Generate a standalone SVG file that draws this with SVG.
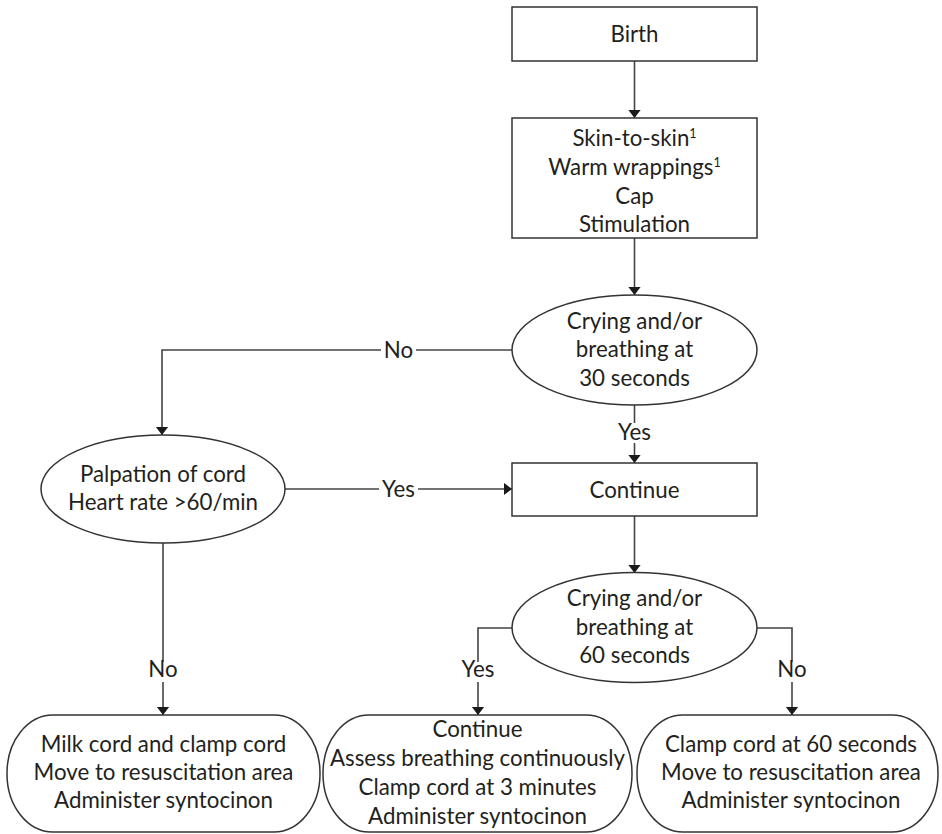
<svg xmlns="http://www.w3.org/2000/svg" width="942" height="834" viewBox="0 0 942 834">
  <style>
    .shape { fill: #ffffff; stroke: #333333; stroke-width: 1.5; }
    .wire { fill: none; stroke: #444444; stroke-width: 1.6; }
    text { font-family: Lato, "Liberation Sans", sans-serif; font-size: 22.3px; fill: #231f20; text-anchor: middle; }
    .sup { font-size: 12.5px; }
  </style>
  <defs>
    <marker id="arrow" markerUnits="userSpaceOnUse" markerWidth="9" markerHeight="14" refX="8.5" refY="6.5" orient="auto">
      <path d="M0,0 L8.5,6.5 L0,13 z" fill="#1a1a1a"/>
    </marker>
  </defs>

  <rect width="942" height="834" fill="#ffffff"/>

  <!-- connectors -->
  <g id="connectors">
    <path class="wire" d="M634.5,61 V118" marker-end="url(#arrow)"/>
    <path class="wire" d="M634.5,238 V295" marker-end="url(#arrow)"/>
    <path class="wire" d="M512,350 H416"/>
    <path class="wire" d="M381,350 H162 V435" marker-end="url(#arrow)"/>
    <text x="398.5" y="358">No</text>
    <path class="wire" d="M634.5,405 V423"/>
    <path class="wire" d="M634.5,443 V463" marker-end="url(#arrow)"/>
    <text x="634.5" y="440">Yes</text>
    <path class="wire" d="M285,489 H379"/>
    <path class="wire" d="M418,489 H512" marker-end="url(#arrow)"/>
    <text x="398.5" y="497">Yes</text>
    <path class="wire" d="M634.5,516 V573" marker-end="url(#arrow)"/>
    <path class="wire" d="M163,543 V662"/>
    <path class="wire" d="M163,682 V715" marker-end="url(#arrow)"/>
    <text x="163" y="677">No</text>
    <path class="wire" d="M512,628 H478 V662"/>
    <path class="wire" d="M478,682 V715" marker-end="url(#arrow)"/>
    <text x="478" y="677">Yes</text>
    <path class="wire" d="M757,628 H792 V662"/>
    <path class="wire" d="M792,682 V715" marker-end="url(#arrow)"/>
    <text x="792" y="677">No</text>
  </g>

  <g id="birth">
    <rect class="shape" x="512" y="7" width="245" height="54"/>
    <text x="634.5" y="41.5">Birth</text>
  </g>

  <g id="initial-care">
    <rect class="shape" x="512" y="118" width="245" height="120"/>
    <text x="634.5" y="146">Skin-to-skin<tspan class="sup" dy="-8">1</tspan></text>
    <text x="634.5" y="175">Warm wrappings<tspan class="sup" dy="-8">1</tspan></text>
    <text x="634.5" y="203.5">Cap</text>
    <text x="634.5" y="232">Stimulation</text>
  </g>

  <g id="check-30s">
    <ellipse class="shape" cx="634.5" cy="350" rx="122.5" ry="55"/>
    <text x="634.5" y="328.5">Crying and/or</text>
    <text x="634.5" y="357">breathing at</text>
    <text x="634.5" y="385.5">30 seconds</text>
  </g>

  <g id="palpation">
    <ellipse class="shape" cx="163" cy="489" rx="122" ry="54"/>
    <text x="163" y="482">Palpation of cord</text>
    <text x="163" y="510">Heart rate &gt;60/min</text>
  </g>

  <g id="continue">
    <rect class="shape" x="512" y="463" width="245" height="53"/>
    <text x="634.5" y="498">Continue</text>
  </g>

  <g id="check-60s">
    <ellipse class="shape" cx="634.5" cy="627.5" rx="122.5" ry="55"/>
    <text x="634.5" y="606">Crying and/or</text>
    <text x="634.5" y="634.5">breathing at</text>
    <text x="634.5" y="663">60 seconds</text>
  </g>

  <g id="resuscitate-now">
    <rect class="shape" x="7" y="715" width="313" height="117" rx="46" ry="58"/>
    <text x="163.5" y="752">Milk cord and clamp cord</text>
    <text x="163.5" y="780">Move to resuscitation area</text>
    <text x="163.5" y="808">Administer syntocinon</text>
  </g>

  <g id="continue-care">
    <rect class="shape" x="323" y="715" width="309" height="117" rx="46" ry="58"/>
    <text x="477.5" y="737">Continue</text>
    <text x="477.5" y="766">Assess breathing continuously</text>
    <text x="477.5" y="795">Clamp cord at 3 minutes</text>
    <text x="477.5" y="824">Administer syntocinon</text>
  </g>

  <g id="resuscitate-60s">
    <rect class="shape" x="637" y="715" width="301" height="117" rx="46" ry="58"/>
    <text x="791" y="752">Clamp cord at 60 seconds</text>
    <text x="791" y="780">Move to resuscitation area</text>
    <text x="791" y="808">Administer syntocinon</text>
  </g>
</svg>
